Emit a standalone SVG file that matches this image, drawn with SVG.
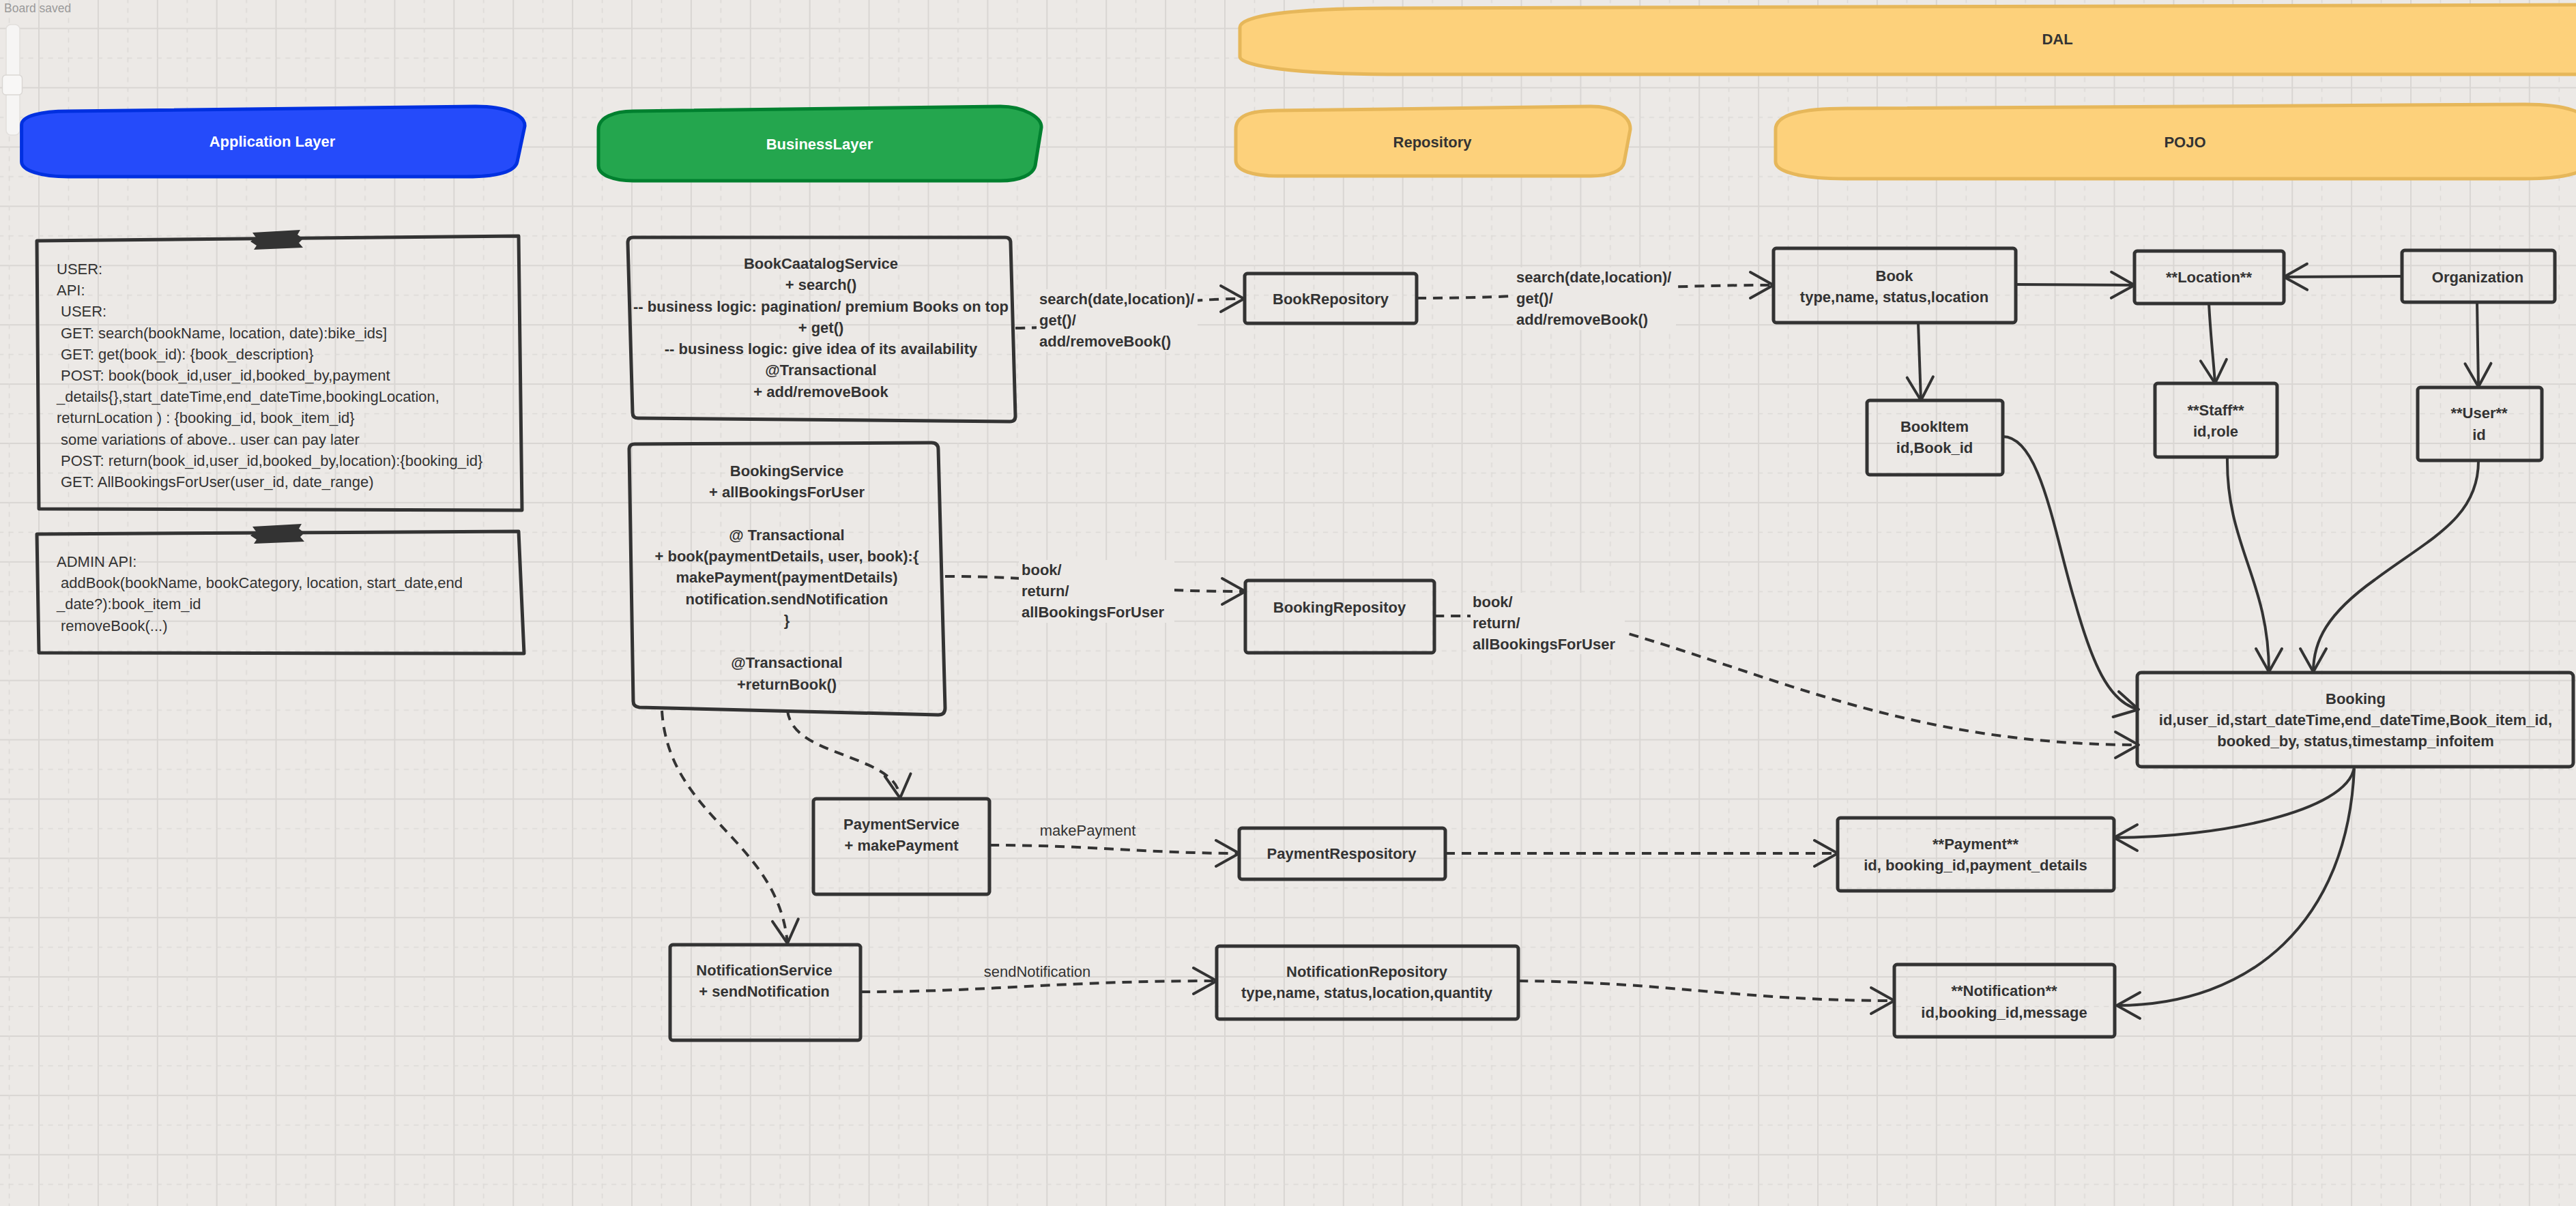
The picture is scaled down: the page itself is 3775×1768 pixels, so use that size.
<svg xmlns="http://www.w3.org/2000/svg" width="3775" height="1768" viewBox="0 0 3775 1768">
<style>
.t{font-family:"Liberation Sans",Arial,sans-serif;font-size:22px;fill:#333}
.b{font-weight:bold}
.m{text-anchor:middle}
.w{fill:#ffffff}
.box{fill:none;stroke:#333;stroke-width:5;stroke-linejoin:round}
.conn{fill:none;stroke:#333;stroke-width:4;marker-end:url(#ah)}
.dash{stroke-dasharray:14 10}
.lbg{fill:#ece9e6}
.yel{fill:#fdd17b;stroke:#e6b75a;stroke-width:5}
</style>
<defs>
<pattern id="grid" x="56" y="40.7" width="86.9" height="86.9" patternUnits="userSpaceOnUse">
<rect x="0" y="0" width="86.9" height="2" fill="#d9d6d3"/>
<rect x="0" y="0" width="2" height="86.9" fill="#d9d6d3"/>
<line x1="0" y1="44.45" x2="86.9" y2="44.45" stroke="#dcd9d6" stroke-width="1.6" stroke-dasharray="7.24 7.24"/>
<line x1="44.45" y1="0" x2="44.45" y2="86.9" stroke="#dcd9d6" stroke-width="1.6" stroke-dasharray="7.24 7.24"/>
</pattern>
<marker id="ah" markerUnits="userSpaceOnUse" markerWidth="48" markerHeight="52" viewBox="-42 -26 48 52" refX="0" refY="0" orient="auto" overflow="visible">
<path d="M-34,-19 L0,0 L-34,19" fill="none" stroke="#333" stroke-width="4" stroke-linejoin="round" stroke-linecap="round" stroke-dasharray="none"/>
</marker>
</defs>
<rect x="0" y="0" width="3775" height="1768" fill="#ece9e6"/>
<rect x="0" y="0" width="3775" height="1768" fill="url(#grid)"/>

<g id="ui">
<text x="6" y="18" style="font-family:'Liberation Sans',Arial,sans-serif;font-size:17.5px;fill:#9a9a9a">Board saved</text>
<rect x="9" y="36" width="20" height="162" rx="7" fill="#f6f5f4" stroke="#e2dfdc" stroke-width="1.5"/>
<rect x="3.5" y="110" width="29" height="29" rx="5" fill="#f8f7f6" stroke="#dad7d4" stroke-width="1.5"/>
</g>

<g id="layer-application">
<path d="M31.6,183 C31.6,170 60,163 100,163 L697,156 C745,156 770,170 769,185 L758,237 C755,252 730,259 683,259 L100,259 C60,259 31.6,250 31.6,237 Z" fill="#254bfa" stroke="#0030e0" stroke-width="5"/>
<text class="t b m w" x="399" y="215">Application Layer</text>
</g>
<g id="layer-business">
<path d="M877,190 C877,172 900,163 928,163 L1466,156 C1500,156 1527,172 1526,187 L1517,243 C1514,256 1495,265 1466,265 L928,265 C900,265 877,257 877,243 Z" fill="#24a64e" stroke="#00802f" stroke-width="5"/>
<text class="t b m w" x="1201" y="219">BusinessLayer</text>
</g>
<g id="layer-dal">
<path class="yel" d="M1817,40 C1817,22 1900,12 2047,12 L3800,7 L3800,109 L2047,109 C1900,109 1817,97 1817,83 Z"/>
<text class="t b m" x="3015" y="65">DAL</text>
</g>
<g id="layer-repository">
<path class="yel" d="M1811,190 C1811,170 1830,162 1873,162 L2331,156 C2365,156 2390,170 2389,190 L2380,238 C2378,250 2360,258 2331,258 L1873,258 C1835,258 1811,250 1811,235 Z"/>
<text class="t b m" x="2099" y="216">Repository</text>
</g>
<g id="layer-pojo">
<path class="yel" d="M2602,190 C2602,168 2640,159 2705,159 L3700,153 C3760,153 3795,165 3795,185 L3795,235 C3795,252 3760,262 3700,262 L2705,262 C2640,262 2602,252 2602,237 Z"/>
<text class="t b m" x="3202" y="216">POJO</text>
</g>

<g id="user-api">
<path class="box" d="M54,353 L760,346 L765,748 L57,746 Z"/>
<polygon points="370,341 440,337 436,344 444,350 438,356 444,363 372,366 376,360 367,354 375,348" fill="#333"/>
<text class="t" x="83" y="402">USER:</text>
<text class="t" x="83" y="433.2">API:</text>
<text class="t" x="89" y="464.4">USER:</text>
<text class="t" x="89" y="495.6">GET: search(bookName, location, date):bike_ids]</text>
<text class="t" x="89" y="526.8">GET: get(book_id): {book_description}</text>
<text class="t" x="89" y="558">POST: book(book_id,user_id,booked_by,payment</text>
<text class="t" x="83" y="589.2">_details{},start_dateTime,end_dateTime,bookingLocation,</text>
<text class="t" x="83" y="620.4">returnLocation ) : {booking_id, book_item_id}</text>
<text class="t" x="89" y="651.6">some variations of above.. user can pay later</text>
<text class="t" x="89" y="682.8">POST: return(book_id,user_id,booked_by,location):{booking_id}</text>
<text class="t" x="89" y="714">GET: AllBookingsForUser(user_id, date_range)</text>
</g>

<g id="admin-api">
<path class="box" d="M54,783 L760,779 L768,958 L57,957 Z"/>
<polygon points="370,772 442,768 438,775 446,781 440,787 446,794 372,797 376,791 367,785 375,779" fill="#333"/>
<text class="t" x="83" y="831">ADMIN API:</text>
<text class="t" x="89" y="862.2">addBook(bookName, bookCategory, location, start_date,end</text>
<text class="t" x="83" y="893.4">_date?):book_item_id</text>
<text class="t" x="89" y="924.6">removeBook(...)</text>
</g>

<g id="book-catalog-service">
<path class="box" d="M928,348 L1473,348 Q1481,348 1481,356 L1488,610 Q1488,618 1480,618 L935,613 Q927,613 927,605 L920,356 Q920,348 928,348 Z"/>
<text class="t b m" x="1203" y="394">BookCaatalogService</text>
<text class="t b m" x="1203" y="425.25">+ search()</text>
<text class="t b m" x="1203" y="456.5">-- business logic: pagination/ premium Books on top</text>
<text class="t b m" x="1203" y="487.75">+ get()</text>
<text class="t b m" x="1203" y="519">-- business logic: give idea of its availability</text>
<text class="t b m" x="1203" y="550.25">@Transactional</text>
<text class="t b m" x="1203" y="581.5">+ add/removeBook</text>
</g>

<g id="booking-service">
<path class="box" d="M930,651 L1365,649 Q1375,649 1375,659 L1385,1038 Q1385,1048 1375,1048 L937,1037 Q928,1036 928,1028 L922,659 Q922,651 930,651 Z"/>
<text class="t b m" x="1153" y="698">BookingService</text>
<text class="t b m" x="1153" y="729.25">+ allBookingsForUser</text>
<text class="t b m" x="1153" y="791.75">@ Transactional</text>
<text class="t b m" x="1153" y="823">+ book(paymentDetails, user, book):{</text>
<text class="t b m" x="1153" y="854.25">makePayment(paymentDetails)</text>
<text class="t b m" x="1153" y="885.5">notification.sendNotification</text>
<text class="t b m" x="1153" y="916.75">}</text>
<text class="t b m" x="1153" y="979.25">@Transactional</text>
<text class="t b m" x="1153" y="1010.5">+returnBook()</text>
</g>

<g id="payment-service">
<rect class="box" x="1192" y="1171" width="258" height="140" rx="4"/>
<text class="t b m" x="1321" y="1216">PaymentService</text>
<text class="t b m" x="1321" y="1247">+ makePayment</text>
</g>

<g id="notification-service">
<rect class="box" x="982" y="1385" width="279" height="140" rx="4"/>
<text class="t b m" x="1120" y="1430">NotificationService</text>
<text class="t b m" x="1120" y="1461">+ sendNotification</text>
</g>

<g id="book-repository">
<rect class="box" x="1824" y="401" width="252" height="73" rx="4"/>
<text class="t b m" x="1950" y="446">BookRepository</text>
</g>

<g id="booking-repository">
<rect class="box" x="1825" y="851" width="277" height="106" rx="4"/>
<text class="t b m" x="1963" y="898">BookingRepositoy</text>
</g>

<g id="payment-repository">
<rect class="box" x="1816" y="1214" width="302" height="75" rx="4"/>
<text class="t b m" x="1966" y="1259">PaymentRespository</text>
</g>

<g id="notification-repository">
<rect class="box" x="1783" y="1387" width="442" height="107" rx="4"/>
<text class="t b m" x="2003" y="1432">NotificationRepository</text>
<text class="t b m" x="2003" y="1463">type,name, status,location,quantity</text>
</g>

<g id="book">
<rect class="box" x="2599" y="364" width="355" height="109" rx="4"/>
<text class="t b m" x="2776" y="412">Book</text>
<text class="t b m" x="2776" y="443">type,name, status,location</text>
</g>

<g id="location">
<rect class="box" x="3128" y="368" width="219" height="77" rx="4"/>
<text class="t b m" x="3237" y="414">**Location**</text>
</g>

<g id="organization">
<rect class="box" x="3520" y="367" width="224" height="76" rx="4"/>
<text class="t b m" x="3631" y="414">Organization</text>
</g>

<g id="book-item">
<rect class="box" x="2736" y="587" width="199" height="109" rx="4"/>
<text class="t b m" x="2835" y="633">BookItem</text>
<text class="t b m" x="2835" y="664">id,Book_id</text>
</g>

<g id="staff">
<rect class="box" x="3158" y="562" width="179" height="108" rx="4"/>
<text class="t b m" x="3247" y="609">**Staff**</text>
<text class="t b m" x="3247" y="640">id,role</text>
</g>

<g id="user">
<rect class="box" x="3543" y="568" width="182" height="107" rx="4"/>
<text class="t b m" x="3633" y="613">**User**</text>
<text class="t b m" x="3633" y="645">id</text>
</g>

<g id="booking">
<rect class="box" x="3132" y="986" width="639" height="138" rx="6"/>
<text class="t b m" x="3452" y="1032">Booking</text>
<text class="t b m" x="3452" y="1063">id,user_id,start_dateTime,end_dateTime,Book_item_id,</text>
<text class="t b m" x="3452" y="1094">booked_by, status,timestamp_infoitem</text>
</g>

<g id="payment">
<rect class="box" x="2693" y="1199" width="405" height="107" rx="4"/>
<text class="t b m" x="2895" y="1245">**Payment**</text>
<text class="t b m" x="2895" y="1276">id, booking_id,payment_details</text>
</g>

<g id="notification">
<rect class="box" x="2776" y="1414" width="323" height="106" rx="4"/>
<text class="t b m" x="2937" y="1460">**Notification**</text>
<text class="t b m" x="2937" y="1492">id,booking_id,message</text>
</g>

<g id="connectors">
<path class="conn dash" d="M1488,481 C1620,481 1650,438 1823,438"/>
<path class="conn dash" d="M2076,437 C2300,437 2350,418 2599,418"/>
<path class="conn dash" d="M1385,845 C1580,845 1600,867 1825,867"/>
<path class="conn dash" d="M2102,903 C2250,903 2300,905 2369,924 C2600,990 2800,1092 3134,1092"/>
<path class="conn dash" d="M1154,1042 C1160,1090 1230,1100 1280,1125 C1305,1138 1317,1150 1319,1170"/>
<path class="conn dash" d="M970,1042 C980,1200 1140,1230 1154,1383"/>
<path class="conn dash" d="M1450,1239 C1600,1239 1680,1251 1816,1251"/>
<path class="conn dash" d="M1261,1454 C1450,1454 1550,1438 1783,1438"/>
<path class="conn dash" d="M2118,1251 L2693,1251"/>
<path class="conn dash" d="M2225,1438 C2450,1440 2550,1467 2776,1467"/>

<path class="conn" d="M2954,417 L3128,418"/>
<path class="conn" d="M3520,405 L3347,406"/>
<path class="conn" d="M2811,473 L2815,587"/>
<path class="conn" d="M3237,445 C3240,500 3244,530 3246,562"/>
<path class="conn" d="M3630,443 L3632,567"/>
<path class="conn" d="M2935,640 C2990,640 3010,780 3040,880 C3065,970 3090,1030 3134,1040"/>
<path class="conn" d="M3264,670 C3262,800 3325,850 3325,985"/>
<path class="conn" d="M3632,676 C3632,760 3560,790 3480,850 C3410,900 3390,940 3390,985"/>
<path class="conn" d="M3450,1125 C3440,1190 3250,1228 3098,1228"/>
<path class="conn" d="M3450,1127 C3440,1350 3300,1474 3102,1474"/>

<rect class="lbg" x="1519" y="424" width="236" height="92"/>
<text class="t b" x="1523" y="446">search(date,location)/</text>
<text class="t b" x="1523" y="477">get()/</text>
<text class="t b" x="1523" y="508">add/removeBook()</text>

<rect class="lbg" x="2218" y="392" width="238" height="92"/>
<text class="t b" x="2222" y="414">search(date,location)/</text>
<text class="t b" x="2222" y="445">get()/</text>
<text class="t b" x="2222" y="476">add/removeBook()</text>

<rect class="lbg" x="1493" y="821" width="228" height="92"/>
<text class="t b" x="1497" y="843">book/</text>
<text class="t b" x="1497" y="874">return/</text>
<text class="t b" x="1497" y="905">allBookingsForUser</text>

<rect class="lbg" x="2155" y="869" width="226" height="90"/>
<text class="t b" x="2158" y="890">book/</text>
<text class="t b" x="2158" y="921">return/</text>
<text class="t b" x="2158" y="952">allBookingsForUser</text>

<text class="t m" x="1594" y="1225">makePayment</text>
<text class="t m" x="1520" y="1432">sendNotification</text>
</g>
</svg>
